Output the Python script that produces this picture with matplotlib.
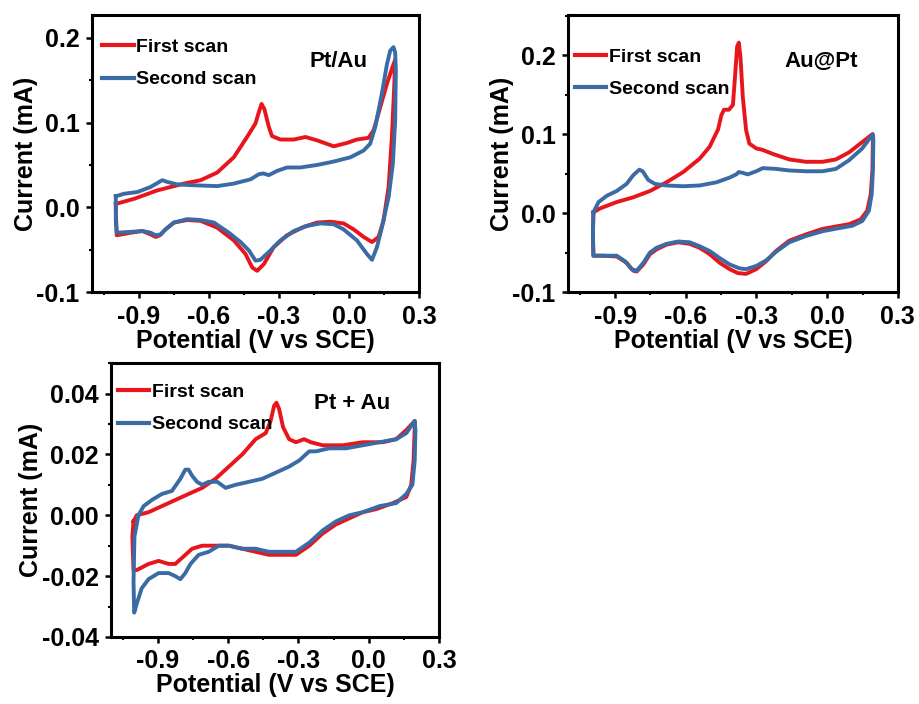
import matplotlib
matplotlib.use("Agg")
import matplotlib.pyplot as plt
from matplotlib.ticker import MultipleLocator

plt.rcParams['font.family'] = ['Liberation Sans', 'DejaVu Sans']
plt.rcParams['font.weight'] = 'bold'
plt.rcParams['axes.unicode_minus'] = False

RED = "#E8161C"
BLUE = "#3B6BA5"

# ── Pt/Au ───────────────────────────────────────────────────
ptau_first_E = [-0.998, -0.920, -0.820, -0.706, -0.635, -0.564, -0.493, -0.436, -0.400, -0.386,
                -0.374, -0.362, -0.343, -0.329, -0.293, -0.236, -0.186, -0.136, -0.065, -0.008,
                0.034, 0.084, 0.106, 0.134, 0.163, 0.191, 0.198,
                0.194, 0.184, 0.170, 0.148, 0.127, 0.099, 0.063, 0.020, -0.023, -0.079,
                -0.136, -0.193, -0.265, -0.322, -0.364, -0.393, -0.414, -0.443, -0.493, -0.564,
                -0.635, -0.692, -0.749, -0.785, -0.809, -0.827, -0.849, -0.884, -0.934, -0.994,
                -0.998, -0.998]
ptau_first_I = [0.004, 0.010, 0.020, 0.028, 0.032, 0.041, 0.059, 0.083, 0.099, 0.112,
                0.122, 0.116, 0.095, 0.084, 0.080, 0.080, 0.083, 0.079, 0.072, 0.076,
                0.080, 0.082, 0.091, 0.118, 0.146, 0.169, 0.174,
                0.142, 0.083, 0.024, -0.016, -0.035, -0.041, -0.035, -0.026, -0.019, -0.017,
                -0.018, -0.023, -0.033, -0.047, -0.067, -0.075, -0.071, -0.055, -0.039, -0.024,
                -0.016, -0.015, -0.018, -0.026, -0.033, -0.035, -0.032, -0.028, -0.030, -0.033,
                -0.004, 0.004]

ptau_second_E = [-0.998, -0.963, -0.906, -0.849, -0.799, -0.778, -0.735, -0.664, -0.564, -0.493,
                 -0.421, -0.386, -0.367, -0.343, -0.307, -0.265, -0.208, -0.136, -0.065, 0.006,
                 0.063, 0.091, 0.113, 0.141, 0.163, 0.177, 0.191, 0.198, 0.201, 0.198,
                 0.188, 0.170, 0.141, 0.120, 0.099, 0.077, 0.034, -0.023, -0.065, -0.122,
                 -0.179, -0.236, -0.293, -0.336, -0.379, -0.400, -0.428, -0.464, -0.514, -0.578,
                 -0.635, -0.692, -0.749, -0.785, -0.806, -0.827, -0.849, -0.884, -0.934, -0.994,
                 -0.998, -0.998]
ptau_second_I = [0.013, 0.016, 0.018, 0.024, 0.032, 0.030, 0.027, 0.026, 0.025, 0.028,
                 0.033, 0.039, 0.040, 0.038, 0.043, 0.047, 0.047, 0.050, 0.054, 0.059,
                 0.067, 0.075, 0.095, 0.134, 0.169, 0.185, 0.189, 0.183, 0.162, 0.102,
                 0.051, 0.012, -0.024, -0.047, -0.062, -0.055, -0.039, -0.026, -0.020, -0.019,
                 -0.022, -0.028, -0.039, -0.051, -0.062, -0.063, -0.051, -0.041, -0.030, -0.018,
                 -0.015, -0.014, -0.018, -0.026, -0.032, -0.033, -0.030, -0.028, -0.029, -0.030,
                 -0.016, 0.013]

# ── Au@Pt ───────────────────────────────────────────────────
aupt_first_E = [-0.992, -0.963, -0.893, -0.823, -0.752, -0.682, -0.611, -0.541, -0.499, -0.463,
                -0.449, -0.438, -0.417, -0.400, -0.389, -0.382, -0.375, -0.368, -0.358, -0.344,
                -0.330, -0.301, -0.273, -0.231, -0.161, -0.090, -0.020, 0.037, 0.093, 0.149,
                0.192,
                0.194, 0.192, 0.185, 0.170, 0.142, 0.093, 0.037, -0.020, -0.090, -0.161,
                -0.217, -0.259, -0.301, -0.344, -0.379, -0.414, -0.456, -0.499, -0.541, -0.583,
                -0.632, -0.682, -0.724, -0.752, -0.780, -0.808, -0.823, -0.851, -0.893, -0.949,
                -0.992, -0.994, -0.992]
aupt_first_I = [0.001, 0.006, 0.014, 0.020, 0.028, 0.039, 0.052, 0.069, 0.084, 0.106,
                0.124, 0.131, 0.131, 0.137, 0.181, 0.211, 0.216, 0.198, 0.147, 0.105,
                0.088, 0.082, 0.080, 0.075, 0.068, 0.065, 0.065, 0.068, 0.077, 0.090,
                0.100,
                0.092, 0.054, 0.024, 0.003, -0.008, -0.014, -0.017, -0.020, -0.027, -0.035,
                -0.048, -0.061, -0.071, -0.077, -0.076, -0.071, -0.063, -0.052, -0.044, -0.039,
                -0.037, -0.040, -0.046, -0.052, -0.065, -0.074, -0.073, -0.063, -0.055, -0.054,
                -0.054, -0.027, 0.001]

aupt_second_E = [-0.992, -0.970, -0.935, -0.893, -0.851, -0.823, -0.797, -0.783, -0.759, -0.731,
                 -0.682, -0.611, -0.541, -0.470, -0.414, -0.386, -0.375, -0.358, -0.337, -0.301,
                 -0.273, -0.217, -0.161, -0.090, -0.020, 0.037, 0.093, 0.149, 0.194,
                 0.196, 0.194, 0.189, 0.177, 0.149, 0.107, 0.051, -0.020, -0.090, -0.161,
                 -0.217, -0.259, -0.301, -0.344, -0.372, -0.414, -0.456, -0.499, -0.541, -0.583,
                 -0.632, -0.682, -0.724, -0.752, -0.780, -0.808, -0.830, -0.858, -0.893, -0.949,
                 -0.992, -0.994, -0.992]
aupt_second_I = [0.001, 0.014, 0.022, 0.028, 0.037, 0.048, 0.055, 0.053, 0.042, 0.037,
                 0.035, 0.034, 0.035, 0.039, 0.045, 0.049, 0.052, 0.051, 0.049, 0.053,
                 0.057, 0.056, 0.054, 0.053, 0.053, 0.056, 0.067, 0.082, 0.100,
                 0.092, 0.054, 0.024, 0.003, -0.010, -0.016, -0.019, -0.023, -0.029, -0.037,
                 -0.049, -0.060, -0.067, -0.071, -0.070, -0.065, -0.057, -0.048, -0.042, -0.037,
                 -0.036, -0.039, -0.044, -0.050, -0.063, -0.073, -0.071, -0.061, -0.054, -0.054,
                 -0.054, -0.027, 0.001]

# ── Pt + Au ─────────────────────────────────────────────────
mix_first_E = [-1.004, -0.990, -0.940, -0.883, -0.826, -0.769, -0.711, -0.654, -0.597, -0.540,
               -0.483, -0.440, -0.419, -0.404, -0.394, -0.383, -0.366, -0.340, -0.311, -0.276,
               -0.247, -0.197, -0.111, -0.026, 0.060, 0.117, 0.160, 0.196,
               0.196, 0.191, 0.181, 0.160, 0.103, 0.031, -0.026, -0.083, -0.140, -0.197,
               -0.254, -0.311, -0.369, -0.426, -0.483, -0.540, -0.597, -0.654, -0.711, -0.754,
               -0.797, -0.826, -0.854, -0.897, -0.940, -0.990, -1.004, -1.009, -1.004]
mix_first_I = [-0.002, 0.000, 0.001, 0.003, 0.005, 0.007, 0.009, 0.012, 0.016, 0.020,
               0.025, 0.027, 0.031, 0.036, 0.037, 0.035, 0.029, 0.025, 0.024, 0.025,
               0.024, 0.023, 0.023, 0.024, 0.024, 0.025, 0.028, 0.031,
               0.029, 0.018, 0.010, 0.006, 0.004, 0.002, 0.001, -0.001, -0.003, -0.006,
               -0.010, -0.013, -0.013, -0.013, -0.012, -0.011, -0.010, -0.010, -0.010, -0.011,
               -0.014, -0.016, -0.016, -0.015, -0.016, -0.018, -0.018, -0.007, -0.002]

mix_second_E = [-0.983, -0.961, -0.926, -0.883, -0.840, -0.804, -0.783, -0.769, -0.754, -0.733,
                -0.711, -0.683, -0.647, -0.611, -0.569, -0.511, -0.454, -0.397, -0.340, -0.297,
                -0.254, -0.226, -0.169, -0.097, -0.026, 0.046, 0.117, 0.160, 0.196,
                0.199, 0.196, 0.186, 0.160, 0.117, 0.046, -0.026, -0.083, -0.140, -0.197,
                -0.254, -0.311, -0.369, -0.426, -0.483, -0.540, -0.597, -0.640, -0.683, -0.726,
                -0.761, -0.783, -0.804, -0.826, -0.854, -0.897, -0.940, -0.969, -0.990, -1.001,
                -1.004, -1.000, -0.983]
mix_second_I = [0.000, 0.003, 0.005, 0.007, 0.008, 0.012, 0.015, 0.015, 0.013, 0.011,
                0.010, 0.011, 0.011, 0.009, 0.010, 0.011, 0.012, 0.014, 0.016, 0.018,
                0.021, 0.021, 0.022, 0.022, 0.023, 0.024, 0.025, 0.027, 0.031,
                0.028, 0.018, 0.010, 0.007, 0.004, 0.003, 0.001, 0.000, -0.002, -0.005,
                -0.009, -0.012, -0.012, -0.012, -0.011, -0.011, -0.010, -0.010, -0.012, -0.013,
                -0.016, -0.019, -0.021, -0.020, -0.019, -0.019, -0.021, -0.024, -0.029, -0.032,
                -0.022, -0.007, 0.000]

panels = [
    dict(rect=[0.1001, 0.5852, 0.3558, 0.3935], ylim=(-0.1, 0.227), major=0.1, minor=0.05,
         fmt="%.1f", name="Pt/Au", txt=(0.754, 0.831), leg=(0.032, 0.915),
         first=(ptau_first_E, ptau_first_I), second=(ptau_second_E, ptau_second_I)),
    dict(rect=[0.618, 0.5852, 0.359, 0.3935], ylim=(-0.1, 0.251), major=0.1, minor=0.05,
         fmt="%.1f", name="Au@Pt", txt=(0.768, 0.831), leg=(0.022, 0.88),
         first=(aupt_first_E, aupt_first_I), second=(aupt_second_E, aupt_second_I)),
    dict(rect=[0.1208, 0.0952, 0.357, 0.389], ylim=(-0.04, 0.05), major=0.02, minor=0.01,
         fmt="%.2f", name="Pt + Au", txt=(0.735, 0.854), leg=(0.022, 0.925),
         first=(mix_first_E, mix_first_I), second=(mix_second_E, mix_second_I)),
]

fig = plt.figure(figsize=(9.19, 7.04), dpi=100)

for p in panels:
    ax = fig.add_axes(p["rect"])
    ax.plot(*p["first"], color=RED, lw=2.8, label="First scan", solid_joinstyle="round")
    ax.plot(*p["second"], color=BLUE, lw=2.8, label="Second scan", solid_joinstyle="round")
    ax.set_xlim(-1.1, 0.3)
    ax.set_ylim(*p["ylim"])
    ax.xaxis.set_major_locator(MultipleLocator(0.3))
    ax.xaxis.set_minor_locator(MultipleLocator(0.15))
    ax.yaxis.set_major_locator(MultipleLocator(p["major"]))
    ax.yaxis.set_minor_locator(MultipleLocator(p["minor"]))
    ax.xaxis.set_major_formatter(matplotlib.ticker.FormatStrFormatter("%.1f"))
    ax.yaxis.set_major_formatter(matplotlib.ticker.FormatStrFormatter(p["fmt"]))
    ax.tick_params(which="major", direction="out", length=4, width=1.8, labelsize=18, pad=5)
    ax.tick_params(which="minor", direction="out", length=2.5, width=1.5)
    ax.tick_params(axis="x", which="both", top=False)
    ax.tick_params(axis="y", which="both", right=False)
    for s in ax.spines.values():
        s.set_linewidth(2.2)
    for lab in ax.get_xticklabels() + ax.get_yticklabels():
        lab.set_fontweight("bold")
    ax.set_xlabel("Potential (V vs SCE)", fontsize=18, fontweight="bold", labelpad=0)
    ax.set_ylabel("Current (mA)", fontsize=18, fontweight="bold", labelpad=-1)
    ax.text(p["txt"][0], p["txt"][1], p["name"], transform=ax.transAxes, fontsize=16,
            fontweight="bold", ha="center", va="center")
    leg = ax.legend(loc="upper left", bbox_to_anchor=p["leg"], frameon=False,
                    prop=dict(size=14, weight="bold"), handlelength=1.6, handletextpad=0.15,
                    labelspacing=0.75, borderpad=0, borderaxespad=0)
    for h in leg.get_lines():
        h.set_linewidth(3)

fig.savefig("out.png", dpi=100)
